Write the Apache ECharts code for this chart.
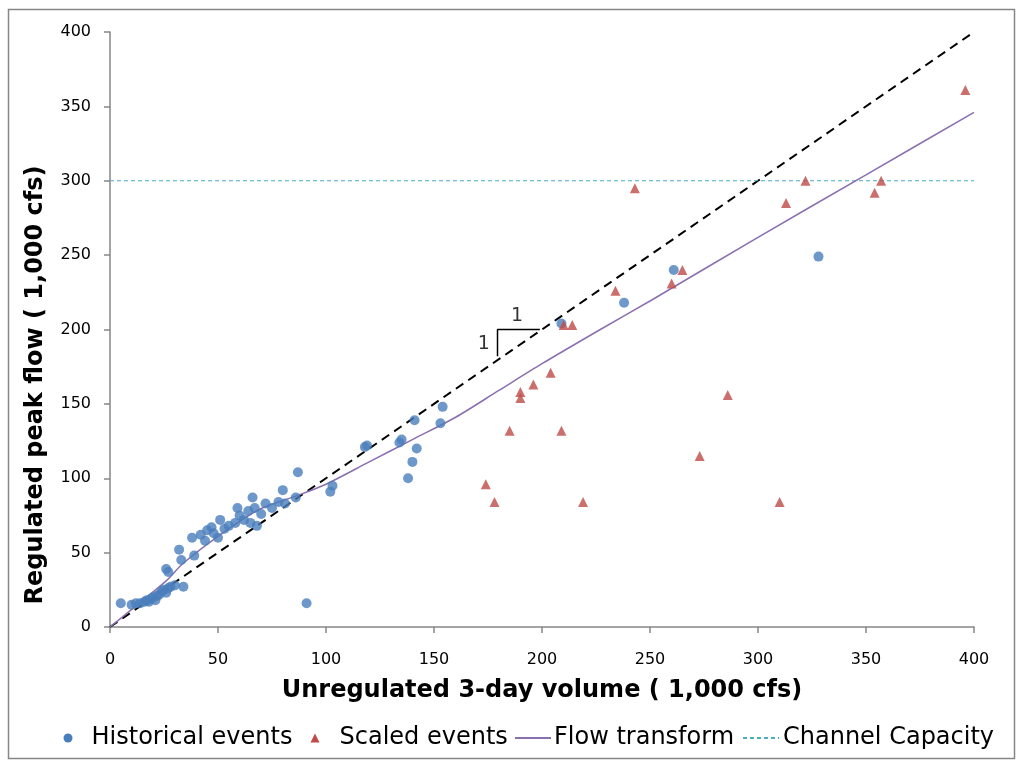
<!DOCTYPE html>
<html>
<head>
  <meta charset="utf-8">
  <title>Regulated peak flow vs unregulated volume</title>
  <script src="https://cdn.jsdelivr.net/npm/echarts@6.0.0/dist/echarts.min.js"></script>
  <style>
    html, body { margin: 0; padding: 0; background: #fff; }
  </style>
</head>
<body>
  <div id="chart" style="width: 1019px; height: 765px;"></div>

  <script>
    // historical events (blue dots): [unregulated volume, regulated peak]
    const historical = [
      [5, 16], [10, 15], [12, 16], [14, 16], [16, 17], [17, 18], [18, 17], [19, 19],
      [20, 20], [21, 18], [22, 21], [23, 22], [24, 24], [25, 25], [26, 23], [27, 26],
      [28, 27], [30, 28], [26, 39], [27, 37], [32, 52], [33, 45], [34, 27], [38, 60],
      [39, 48], [42, 62], [44, 58], [45, 65], [47, 67], [48, 63], [50, 60], [51, 72],
      [53, 66], [55, 68], [58, 70], [59, 80], [60, 75], [62, 72], [64, 78], [65, 70],
      [66, 87], [67, 80], [68, 68], [70, 76], [72, 83], [75, 80], [78, 84], [80, 92],
      [81, 83], [86, 87], [87, 104], [91, 16], [102, 91], [103, 95], [118, 121], [119, 122],
      [134, 124], [135, 126], [138, 100], [140, 111], [141, 139], [142, 120], [153, 137],
      [154, 148], [209, 204], [238, 218], [261, 240], [328, 249]
    ];

    // scaled events (red triangles)
    const scaled = [
      [396, 361], [243, 295], [322, 300], [313, 285], [354, 292], [357, 300], [260, 231],
      [265, 240], [234, 226], [210, 203], [214, 203], [204, 171], [196, 163], [190, 158],
      [190, 154], [185, 132], [209, 132], [174, 96], [178, 84], [219, 84], [286, 156],
      [273, 115], [310, 84]
    ];

    // flow transform curve
    const transformX = [0, 11, 26, 34, 51, 69, 86, 100, 120, 140, 160, 180, 200, 227, 251, 300, 350, 400];
    const transformY = [0, 13, 31, 43, 62, 79, 88, 96, 111, 126, 141, 159, 177, 200, 220, 262, 304, 346];

    const channelCapacity = 300;
    const oneToOne = [[0, 0], [400, 400]];

    // 1:1 slope marker and its labels
    const slopeMarker = [[179.4, 182], [179.4, 200], [199, 200]];
    const slopeLabels = [[173, 190, '1'], [188.5, 209, '1']];

    const font = 'DejaVu Sans, Verdana, sans-serif';
    const axisGrey = '#868686';

    const chart = echarts.init(document.getElementById('chart'));

    const legendBase = {
      top: 721, itemHeight: 9, itemGap: 4,
      itemStyle: { opacity: 0 }
    };
    function legendText(padLeft) {
      return { fontFamily: font, fontSize: 24, color: '#000', padding: [0, 0, 0, padLeft] };
    }

    chart.setOption({
      animation: false,
      backgroundColor: '#fff',
      graphic: [
        {
          type: 'rect',
          shape: { x: 8.5, y: 9.5, width: 1006, height: 749 },
          style: { fill: 'none', stroke: axisGrey, lineWidth: 1.5 },
          silent: true
        },
        {
          type: 'text',
          x: 36, y: 385,
          rotation: Math.PI / 2,
          style: {
            text: 'Regulated peak flow ( 1,000 cfs)',
            font: 'bold 24px DejaVu Sans, Verdana, sans-serif',
            fill: '#000',
            align: 'center',
            verticalAlign: 'middle'
          },
          silent: true
        }
      ],
      grid: { left: 110, right: 45, top: 32, bottom: 138 },
      legend: [
        Object.assign({}, legendBase, { data: [{ name: 'Historical events', icon: 'circle', itemStyle: { opacity: 1 } }], left: 58.5, itemWidth: 9, textStyle: legendText(14) }),
        Object.assign({}, legendBase, { data: [{ name: 'Scaled events', icon: 'triangle', itemStyle: { opacity: 1 } }], left: 305.5, itemWidth: 9, textStyle: legendText(15) }),
        Object.assign({}, legendBase, { data: ['Flow transform'], left: 509, itemWidth: 36, textStyle: legendText(-2) }),
        Object.assign({}, legendBase, { data: ['Channel Capacity'], left: 737, itemWidth: 36, textStyle: legendText(-1) })
      ],
      xAxis: {
        type: 'value', min: 0, max: 400, interval: 50,
        name: 'Unregulated 3-day volume ( 1,000 cfs)',
        nameLocation: 'middle', nameGap: 52,
        nameTextStyle: { fontFamily: font, fontSize: 24, fontWeight: 'bold', color: '#000' },
        axisLine: { lineStyle: { color: axisGrey, width: 1.5 } },
        axisTick: { lineStyle: { color: axisGrey, width: 1.5 }, length: 6 },
        axisLabel: { fontFamily: font, fontSize: 16, color: '#000', margin: 25 },
        splitLine: { show: false }
      },
      yAxis: {
        type: 'value', min: 0, max: 400, interval: 50,
        axisLine: { show: true, lineStyle: { color: axisGrey, width: 1.5 } },
        axisTick: { show: true, lineStyle: { color: axisGrey, width: 1.5 }, length: 6 },
        axisLabel: { fontFamily: font, fontSize: 16, color: '#000', margin: 19 },
        splitLine: { show: false }
      },
      series: [
        {
          name: '1:1',
          type: 'line',
          data: oneToOne,
          symbol: 'none',
          silent: true,
          lineStyle: { color: '#000', width: 2, type: [9, 6] },
          z: 1
        },
        {
          name: 'Channel Capacity',
          type: 'line',
          data: [[0, channelCapacity], [400, channelCapacity]],
          symbol: 'none',
          lineStyle: { color: '#4BACC6', width: 1.2, type: [4, 3] },
          itemStyle: { color: '#4BACC6' },
          z: 1
        },
        {
          name: 'Flow transform',
          type: 'line',
          data: transformX.map((x, i) => [x, transformY[i]]),
          symbol: 'none',
          smooth: 0.3,
          lineStyle: { color: '#8A6FB0', width: 1.5 },
          itemStyle: { color: '#8A6FB0' },
          z: 2
        },
        {
          name: 'Historical events',
          type: 'scatter',
          data: historical,
          symbol: 'circle',
          symbolSize: 10,
          itemStyle: { color: '#4A7EBB' },
          z: 3
        },
        {
          name: 'Scaled events',
          type: 'scatter',
          data: scaled,
          symbol: 'triangle',
          symbolSize: 10,
          itemStyle: { color: '#BE4B48' },
          z: 3
        },
        {
          name: 'slope',
          type: 'line',
          data: slopeMarker,
          symbol: 'none',
          silent: true,
          lineStyle: { color: '#000', width: 1.5 },
          z: 4
        },
        {
          name: 'slopeText',
          type: 'scatter',
          data: slopeLabels,
          symbolSize: 0,
          silent: true,
          label: {
            show: true,
            position: 'inside',
            formatter: p => p.value[2],
            fontFamily: font, fontSize: 19, color: '#000'
          },
          z: 4
        }
      ]
    });
  </script>
</body>
</html>
